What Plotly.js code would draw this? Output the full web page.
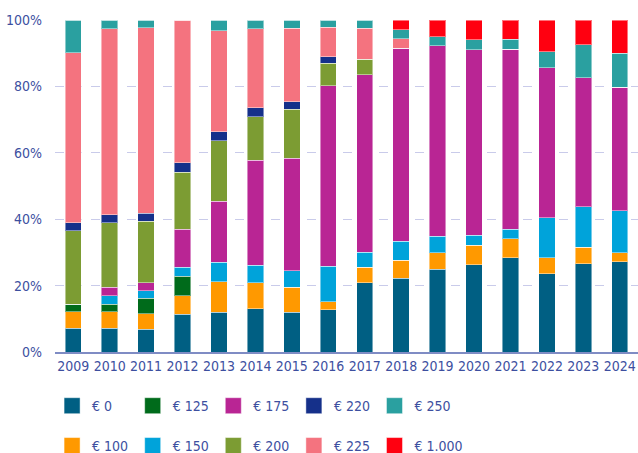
<!DOCTYPE html>
<html><head><meta charset="utf-8">
<script src="https://cdn.plot.ly/plotly-3.0.1.min.js"></script>
<style>html,body{margin:0;padding:0;background:#fff}#chart{width:638px;height:453px}
#chart g.scrollbox{clip-path:none !important}
#chart g.legendpoints path{d:path("M8,8H-8V-8H8Z") !important}</style>
</head><body><div id="chart"></div>
<script>
const years = ['2009','2010','2011','2012','2013','2014','2015','2016','2017','2018','2019','2020','2021','2022','2023','2024'];
const seriesNames = ['€ 0','€ 100','€ 125','€ 150','€ 175','€ 200','€ 220','€ 225','€ 250','€ 1.000'];
const eur0    = [7.1, 7.1, 6.8, 11.3, 12.0, 13.0, 12.0, 12.8, 20.8, 22.2, 24.9, 26.3, 28.4, 23.6, 26.6, 27.2];
const eur100  = [5.0, 5.0, 4.7, 5.7, 9.1, 7.9, 7.5, 2.3, 4.7, 5.5, 5.0, 5.9, 5.7, 4.8, 5.0, 2.7];
const eur125  = [2.3, 2.3, 4.7, 5.8, 0, 0, 0, 0, 0, 0, 0, 0, 0, 0, 0, 0];
const eur150  = [0, 2.6, 2.3, 2.8, 6.0, 5.3, 4.9, 10.8, 4.6, 5.6, 4.9, 3.0, 2.9, 12.0, 12.2, 12.6];
const eur175  = [0, 2.5, 2.3, 11.4, 18.3, 31.5, 33.9, 54.3, 53.4, 58.2, 57.5, 55.9, 54.2, 45.2, 38.8, 37.3];
const eur200  = [22.1, 19.4, 18.6, 17.2, 18.2, 13.2, 14.8, 6.7, 4.7, 0, 0, 0, 0, 0, 0, 0];
const eur220  = [2.4, 2.5, 2.4, 2.8, 2.8, 2.6, 2.3, 2.1, 0, 0, 0, 0, 0, 0, 0, 0];
const eur225  = [51.3, 56.0, 55.8, 43.0, 30.4, 23.8, 22.1, 8.8, 9.3, 2.8, 0, 0, 0, 0, 0, 0];
const eur250  = [9.8, 2.6, 2.4, 0, 3.2, 2.7, 2.5, 2.2, 2.5, 2.8, 2.6, 2.9, 3.0, 4.8, 9.9, 10.2];
const eur1000 = [0, 0, 0, 0, 0, 0, 0, 0, 0, 2.9, 5.1, 6.0, 5.8, 9.6, 7.5, 10.0];
const yTicks = [0, 20, 40, 60, 80, 100];
const yTickLabels = ['0%', '20%', '40%', '60%', '80%', '100%'];

const values = [eur0, eur100, eur125, eur150, eur175, eur200, eur220, eur225, eur250, eur1000];
const colors = ['#005f83', '#ff9900', '#006b1b', '#00a3da', '#b92594', '#7c9c33', '#15308a', '#f4737f', '#2aa0a0', '#ff0010'];
const legendOf = ['legend','legend2','legend','legend2','legend','legend2','legend','legend2','legend','legend2'];

const FONT = '"Liberation Sans Narrow", "DejaVu Sans Condensed", "Arial Narrow", sans-serif';
const TXT = '#3d4f9f';

const traces = seriesNames.map((n, i) => ({
  type: 'bar', name: n, x: years, y: values[i],
  marker: {color: colors[i], line: {color: 'rgba(255,255,255,0.45)', width: 1}},
  legend: legendOf[i],
  hoverinfo: 'skip'
}));

const legendBase = {
  orientation: 'h', xanchor: 'left', yanchor: 'middle', x: -0.005,
  font: {family: FONT, size: 14, color: TXT}, entrywidth: 35.6, entrywidthmode: 'pixels',
  bgcolor: 'rgba(0,0,0,0)', itemclick: false, itemdoubleclick: false, traceorder: 'normal'
};

const layout = {
  width: 638, height: 453,
  margin: {l: 55, r: 0, t: 20, b: 101, autoexpand: false},
  paper_bgcolor: '#fff', plot_bgcolor: '#fff',
  barmode: 'stack', bargap: 0.55,
  showlegend: true,
  legend: Object.assign({}, legendBase, {y: -0.163}),
  legend2: Object.assign({}, legendBase, {y: -0.283}),
  xaxis: {
    type: 'category', tickfont: {family: FONT, size: 14, color: TXT},
    showline: true, linecolor: '#7f8cc4', linewidth: 2, ticks: '', showgrid: false,
    fixedrange: true
  },
  yaxis: {
    range: [0, 100], tickvals: yTicks, ticktext: yTickLabels,
    tickfont: {family: FONT, size: 14, color: TXT},
    showgrid: true, gridcolor: '#c9cbea', griddash: 'dash', gridwidth: 1,
    zeroline: false, showline: false, ticks: '', ticklabelstandoff: 12, fixedrange: true
  }
};

Plotly.newPlot('chart', traces, layout, {displayModeBar: false, staticPlot: true});
</script></body></html>
